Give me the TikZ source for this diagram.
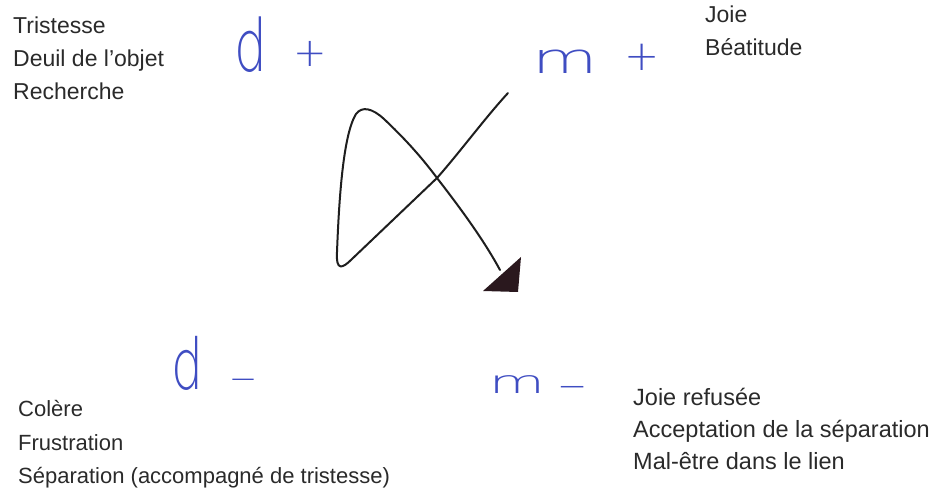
\documentclass[tikz,border=0pt]{standalone}
\usepackage{fontspec}
\setmainfont{Liberation Sans}
\newfontfamily\handfont{DejaVu Sans ExtraLight}
\definecolor{ink}{HTML}{2A2A2A}
\definecolor{pen}{HTML}{3F4DC2}
\definecolor{lead}{HTML}{1E1E1E}
\definecolor{tipfill}{HTML}{2A181E}

\begin{document}
\begin{tikzpicture}[x=1pt,y=-1pt,
  emo/.style={anchor=base west,inner sep=0pt,ink,font=\fontsize{#1}{26}\selectfont},
  emo/.default=23,
  hand/.style={pen,inner sep=0pt,font=\handfont\fontsize{#1}{#1}\selectfont}]
 \useasboundingbox (0,0) rectangle (938,497);
 % texts in the four corners
 \node[emo] (trist) at (13,34) {Tristesse};
 \node[emo] (deuil) at (13,67) {Deuil de l’objet};
 \node[emo] (rech) at (13,100) {Recherche};
 \node[emo] (joie) at (705,23) {Joie};
 \node[emo] (beat) at (705,56) {Béatitude};
 \node[emo=22] (colere) at (18,417) {Colère};
 \node[emo=22] (frust) at (18,450) {Frustration};
 \node[emo=22] (separ) at (18,483) {Séparation (accompagné de tristesse)};
 \node[emo=23.5] (refus) at (633,405) {Joie refusée};
 \node[emo=23.5] (accep) at (633,437) {Acceptation de la séparation};
 \node[emo=23.5] (malet) at (633,469) {Mal-être dans le lien};
 % pen marks
 \node[hand=72,xscale=.72] (dplus) at (251,45) {d};
 \node[hand=40,anchor=base] (dplussign) at (310,67) {+};
 \node[hand=42,xscale=1.6] (mplus) at (565,62) {m};
 \node[hand=42,anchor=base] (mplussign) at (642,71) {+};
 \node[hand=70,xscale=.72] (dminus) at (187,363) {d};
 \node[hand=34,anchor=base] (dminussign) at (243,391) {−};
 \node[hand=32,xscale=1.8] (mminus) at (517,385) {m};
 \node[hand=36,anchor=base] (mminussign) at (573,398) {−};
 % the loop
 \coordinate (start) at (508,93);
 \coordinate (cross) at (437,178);
 \coordinate (finish) at (500,270);
 \draw[lead,line width=2pt,line cap=round,line join=round]
   (start) .. controls (485,118) and (460,152) .. (cross)
   -- (352,259) .. controls (342,269) and (336,271) .. (337,252)
   .. controls (339,200) and (343,135) .. (356,114)
   .. controls (362,106) and (372,108) .. (384,119)
   .. controls (402,136) and (420,155) .. (cross)
   .. controls (465,214) and (486,244) .. (finish);
 \fill[tipfill] (483,291) -- (521,257) -- (518,292) -- cycle;
\end{tikzpicture}
\end{document}
